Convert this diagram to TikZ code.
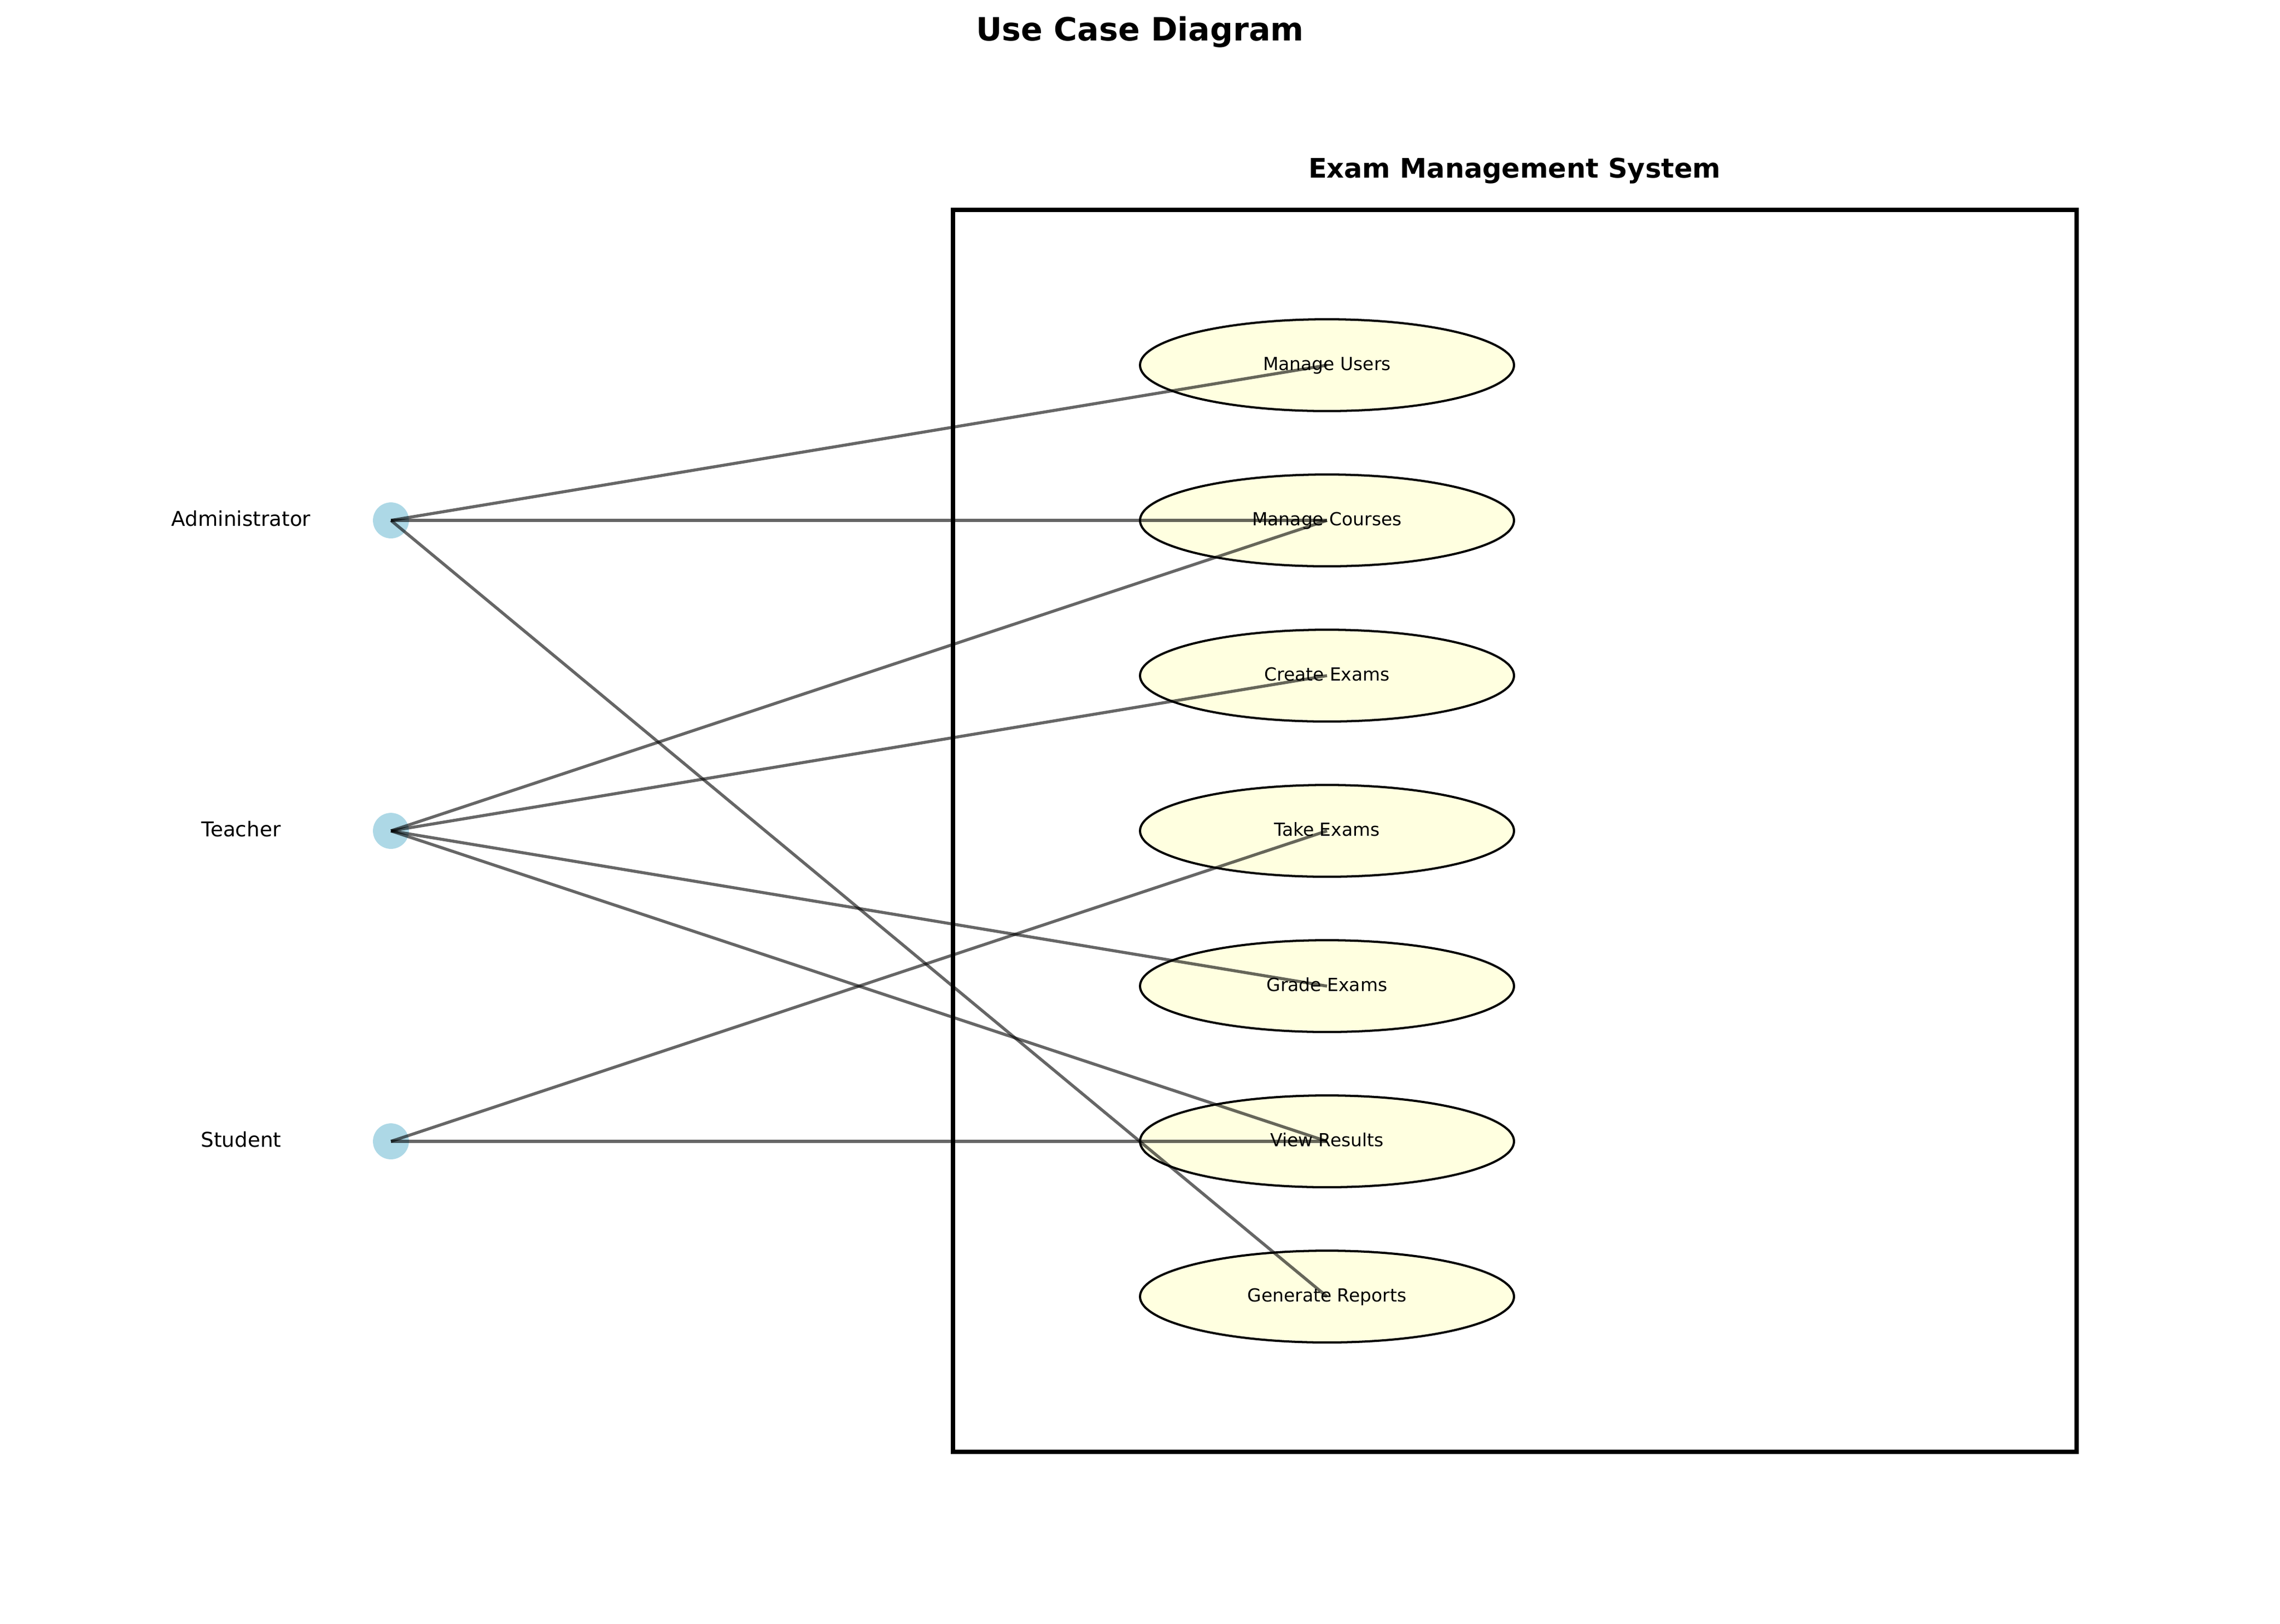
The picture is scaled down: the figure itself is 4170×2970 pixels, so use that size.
\documentclass[tikz,border=0pt]{standalone}
\usepackage{fontspec}
\setmainfont{DejaVu Sans}
\usetikzlibrary{shapes.geometric}
\definecolor{actorblue}{HTML}{ADD8E6}
\definecolor{caseyellow}{HTML}{FFFFE0}
\tikzstyle{actor}=[circle, fill=actorblue, minimum size=18pt, inner sep=0pt]
\tikzstyle{usecase}=[ellipse, draw, line width=1.1pt, fill=caseyellow, minimum width=187pt, minimum height=45.9pt, inner sep=0pt]
\tikzstyle{caselabel}=[font=\fontsize{9}{11}\selectfont, text height=6.6pt, text depth=1.68pt, inner sep=0pt]
\tikzstyle{actorlabel}=[font=\fontsize{10.2}{12}\selectfont, anchor=base, inner sep=0pt]
\tikzstyle{assoc}=[line width=1.5pt, black, opacity=0.6]

\begin{document}
\begin{tikzpicture}[x=0.2734pt, y=-0.2734pt]
    \useasboundingbox (0,0) rectangle (4170,2970);
% Titles
    \node[font=\bfseries\fontsize{16}{19}\selectfont, anchor=base, inner sep=0pt] (title) at (2085,74) {Use Case Diagram};
    \node[font=\bfseries\fontsize{13.5}{16}\selectfont, anchor=base, inner sep=0pt] (systitle) at (2770,325) {Exam Management System};
% System boundary
    \draw[line width=2.2pt] (1743,384) rectangle (3798,2656);
% Use cases
    \foreach \name/\y in {mu/668, mc/952, ce/1236, te/1520, ge/1804, vr/2088, gr/2372}
        \node[usecase] (\name) at (2427,\y) {};
% Actors
    \node[actor] (admin) at (715,952) {};
    \node[actor] (teacher) at (715,1520) {};
    \node[actor] (student) at (715,2088) {};
% Associations
    \foreach \a/\u in {admin/mu, admin/mc, admin/gr, teacher/mc, teacher/ce, teacher/ge, teacher/vr, student/te, student/vr}
        \draw[assoc] (\a.center) -- (\u.center);
% Use case names
    \foreach \name/\txt in {mu/Manage Users, mc/Manage Courses, ce/Create Exams, te/Take Exams, ge/Grade Exams, vr/View Results, gr/Generate Reports}
        \node[caselabel] (\name-t) at (\name) {\txt};
% Actor names
    \node[actorlabel] (admin-t) at (441,962.5) {Administrator};
    \node[actorlabel] (teacher-t) at (441,1530.5) {Teacher};
    \node[actorlabel] (student-t) at (441,2098.5) {Student};
\end{tikzpicture}
\end{document}
